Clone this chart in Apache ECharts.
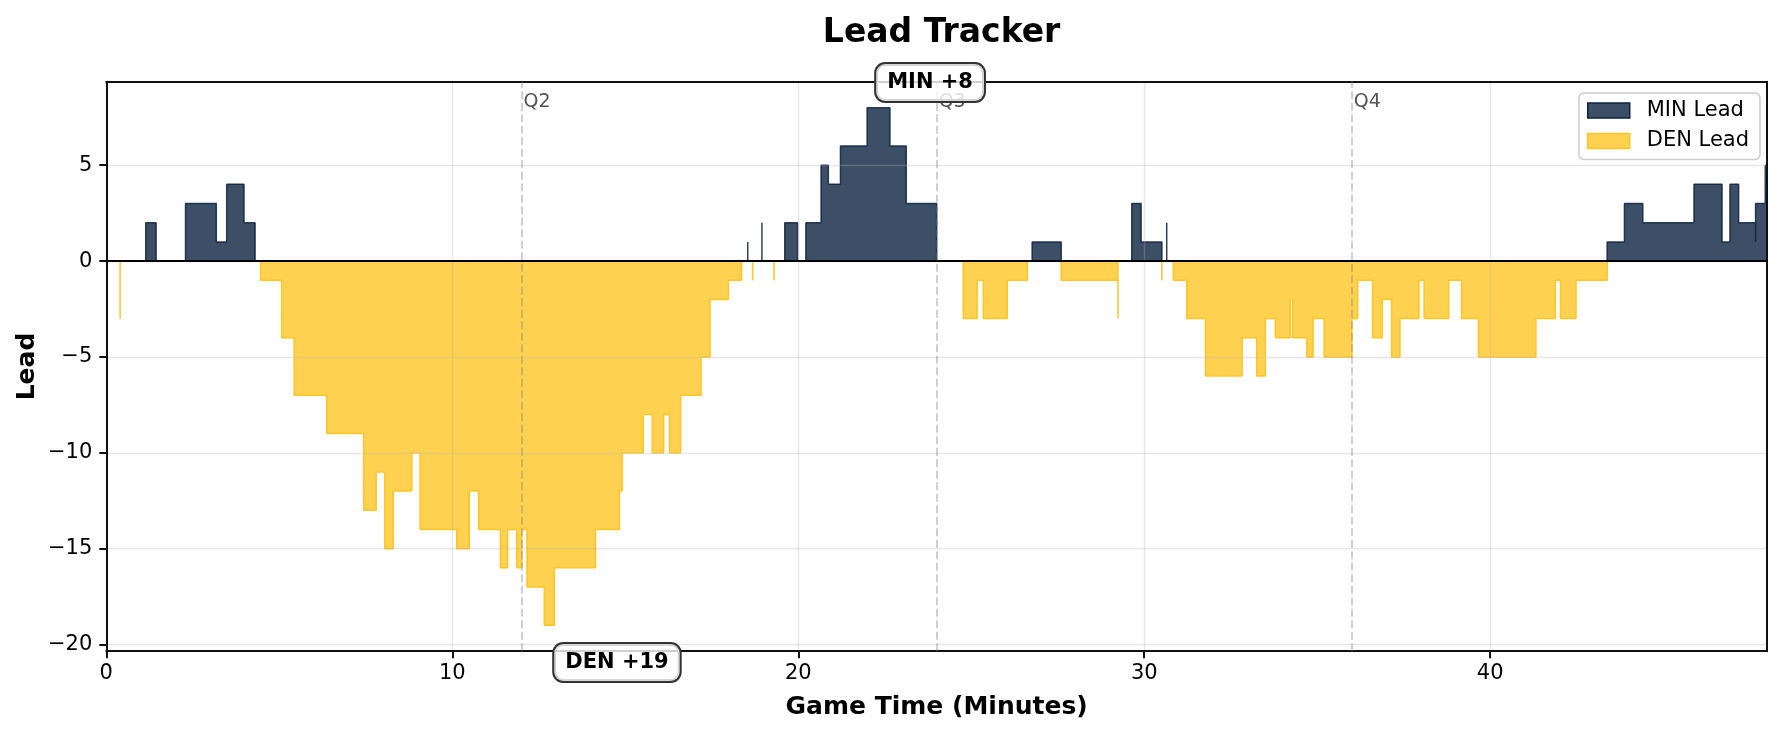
<!DOCTYPE html>
<html>
<head>
<meta charset="utf-8">
<title>Lead Tracker</title>
<script src="https://cdn.jsdelivr.net/npm/echarts@6/dist/echarts.min.js"></script>
<style>
    html, body { margin: 0; padding: 0; background: #fff; }
    #lead-chart { width: 1782px; height: 733px; }
</style>
</head>
<body>
<div id="lead-chart"></div>
<script>
// game clock (minutes) at each change of the lead
const times = [
    0, 0.40, 0.40, 1.14, 1.44, 2.29, 3.18, 3.48, 3.98, 4.30,
    4.46, 5.07, 5.43, 6.37, 7.44, 7.80, 8.05, 8.29, 8.83, 9.07,
    10.13, 10.49, 10.76, 11.39, 11.60, 11.86, 12.01, 12.16, 12.66, 12.95,
    14.14, 14.83, 14.91, 15.52, 15.78, 16.11, 16.28, 16.60, 17.19, 17.45,
    17.98, 18.36, 18.54, 18.54, 18.68, 18.68, 18.95, 18.95, 19.30, 19.30,
    19.61, 19.98, 20.22, 20.66, 20.87, 21.22, 21.99, 22.65, 23.12, 24.00,
    24.77, 25.17, 25.35, 26.04, 26.62, 26.76, 27.60, 29.24, 29.24, 29.64,
    29.91, 30.51, 30.51, 30.65, 30.65, 30.84, 31.23, 31.77, 32.83, 33.25,
    33.50, 33.79, 34.22, 34.29, 34.70, 34.88, 35.20, 36.00, 36.17, 36.60,
    36.88, 37.15, 37.39, 37.94, 38.09, 38.80, 39.17, 39.66, 41.32, 41.88,
    42.03, 42.48, 43.38, 43.88, 44.41, 45.89, 46.70, 46.93, 47.18, 47.67,
    47.67, 47.95, 48.00
]
// MIN score minus DEN score from that moment on
const leads = [
    0, -3, 0, 2, 0, 3, 1, 4, 2, 0,
    -1, -4, -7, -9, -13, -11, -15, -12, -10, -14,
    -15, -12, -14, -16, -14, -16, -14, -17, -19, -16,
    -14, -12, -10, -8, -10, -8, -10, -7, -5, -2,
    -1, 0, 1, 0, -1, 0, 2, 0, -1, 0,
    2, 0, 2, 5, 4, 6, 8, 6, 3, 0,
    -3, -1, -3, -1, 0, 1, -1, -3, 0, 3,
    1, -1, 0, 2, 0, -1, -3, -6, -4, -6,
    -3, -4, -2, -4, -5, -3, -5, -3, -1, -4,
    -2, -5, -3, -1, -3, -1, -3, -5, -3, -1,
    -3, -1, 1, 3, 2, 4, 1, 4, 2, 1,
    3, 5, 5
]

const quarterStarts = [12, 24, 36]
const quarterNames = ['Q2', 'Q3', 'Q4']
const xTicks = [0, 10, 20, 30, 40]
const yTicks = [-20, -15, -10, -5, 0, 5]

const MIN_COLOR = '#0C2340'
const DEN_COLOR = '#FEC524'
const FONT = 'DejaVu Sans'
const SPINE = { color: '#111', width: 2 }

const minData = times.map((t, i) => [t, Math.max(leads[i], 0)])
const denData = times.map((t, i) => [t, Math.min(leads[i], 0)])
const maxLead = Math.max(...leads)
const minLead = Math.min(...leads)

const boxLabel = {
    show: true,
    position: 'inside',
    color: '#000',
    fontFamily: FONT,
    fontSize: 21,
    fontWeight: 'bold',
    backgroundColor: 'rgba(255,255,255,0.8)',
    borderColor: '#333',
    borderWidth: 2,
    borderRadius: 9,
    padding: [9, 11, 7, 11],
}

const chart = echarts.init(document.getElementById('lead-chart'))
chart.setOption({
    animation: false,
    textStyle: { fontFamily: FONT },
    title: {
        text: 'Lead Tracker',
        left: 936.6,
        top: 12,
        textAlign: 'center',
        textStyle: { fontSize: 33, fontWeight: 'bold', color: '#000', fontFamily: FONT },
    },
    legend: {
        orient: 'vertical',
        right: 22,
        top: 93,
        padding: [7, 11, 8, 8],
        itemGap: 9.5,
        itemWidth: 42,
        itemHeight: 15,
        borderColor: '#ccc',
        borderWidth: 1.5,
        borderRadius: 5,
        backgroundColor: 'rgba(255,255,255,0.8)',
        textStyle: { fontSize: 21, color: '#000', fontFamily: FONT, padding: [0, 0, 0, 12] },
        data: [
            { name: 'MIN Lead', icon: 'rect', itemStyle: { color: 'rgba(12,35,64,0.8)', borderColor: MIN_COLOR, borderWidth: 1.5 } },
            { name: 'DEN Lead', icon: 'rect', itemStyle: { color: 'rgba(254,197,36,0.8)', borderColor: DEN_COLOR, borderWidth: 1.5 } },
        ],
    },
    grid: {
        left: 106.3,
        right: 15,
        top: 81.8,
        bottom: 81.8,
        outerBoundsMode: 'none',
    },
    xAxis: [{
        type: 'value',
        min: 0,
        max: 48,
        z: 3,
        name: 'Game Time (Minutes)',
        nameLocation: 'middle',
        nameGap: 43.5,
        nameMoveOverlap: false,
        nameTextStyle: { fontSize: 25, fontWeight: 'bold', color: '#000', fontFamily: FONT },
        axisLine: { show: true, onZero: false, lineStyle: SPINE },
        axisTick: { show: true, length: 7, customValues: xTicks, lineStyle: SPINE },
        axisLabel: { margin: 12, fontSize: 21, color: '#000', customValues: xTicks },
        splitLine: { show: true, lineStyle: { color: 'rgba(176,176,176,0.3)', width: 1.4 } },
    }, {
        type: 'value',
        position: 'top',
        min: 0,
        max: 48,
        z: 3,
        axisLine: { show: true, onZero: false, lineStyle: SPINE },
        axisTick: { show: false },
        axisLabel: { show: false },
        splitLine: { show: false },
    }],
    yAxis: [{
        type: 'value',
        min: -20.35,
        max: 9.35,
        z: 3,
        name: 'Lead',
        nameLocation: 'middle',
        nameGap: 66,
        nameMoveOverlap: false,
        nameTextStyle: { fontSize: 25, fontWeight: 'bold', color: '#000', fontFamily: FONT },
        axisLine: { show: true, onZero: false, lineStyle: SPINE },
        axisTick: { show: true, length: 7, customValues: yTicks, lineStyle: SPINE },
        axisLabel: {
            margin: 14,
            fontSize: 21,
            color: '#000',
            customValues: yTicks,
            formatter: v => String(v).replace('-', '\u2212'),
        },
        splitLine: { show: true, lineStyle: { color: 'rgba(176,176,176,0.3)', width: 1.4 } },
    }, {
        type: 'value',
        position: 'right',
        min: -20.35,
        max: 9.35,
        z: 3,
        axisLine: { show: true, onZero: false, lineStyle: SPINE },
        axisTick: { show: false },
        axisLabel: { show: false },
        splitLine: { show: false },
    }],
    series: [
        {
            name: 'DEN Lead',
            type: 'line',
            step: 'end',
            data: denData,
            symbol: 'none',
            z: 2,
            lineStyle: { color: DEN_COLOR, width: 1.5 },
            itemStyle: { color: DEN_COLOR },
            areaStyle: { color: DEN_COLOR, opacity: 0.8, origin: 0 },
        },
        {
            name: 'MIN Lead',
            type: 'line',
            step: 'end',
            data: minData,
            symbol: 'none',
            z: 2,
            lineStyle: { color: MIN_COLOR, width: 1.5, opacity: 0.85 },
            itemStyle: { color: MIN_COLOR },
            areaStyle: { color: MIN_COLOR, opacity: 0.8, origin: 0 },
        },
        {
            // zero line, quarter markers
            name: 'markers',
            type: 'line',
            data: [],
            z: 4,
            silent: true,
            markLine: {
                symbol: 'none',
                silent: true,
                label: { show: false },
                data: [
                    { yAxis: 0, lineStyle: { color: '#000', width: 2, type: 'solid' } },
                    ...quarterStarts.map(q => ({
                        xAxis: q,
                        lineStyle: { color: 'rgba(128,128,128,0.5)', width: 1.5, type: [8, 3.5] },
                    })),
                ],
            },
            markPoint: {
                symbol: 'circle',
                symbolSize: 0,
                silent: true,
                data: quarterStarts.map((q, i) => ({
                    coord: [q, 9],
                    label: {
                        show: true,
                        position: [2, 4.5],
                        formatter: quarterNames[i],
                        color: '#555',
                        fontSize: 19,
                        fontFamily: FONT,
                    },
                })),
            },
        },
        {
            // biggest leads
            name: 'notes',
            type: 'line',
            data: [],
            z: 6,
            silent: true,
            markPoint: {
                symbol: 'circle',
                symbolSize: 0,
                silent: true,
                data: [
                    { coord: [23.81, 9], label: { ...boxLabel, formatter: 'MIN +' + maxLead, offset: [0, -6] } },
                    { coord: [14.76, -20], label: { ...boxLabel, formatter: 'DEN +' + (-minLead), offset: [0, 18] } },
                ],
            },
        },
    ],
})
</script>
</body>
</html>
